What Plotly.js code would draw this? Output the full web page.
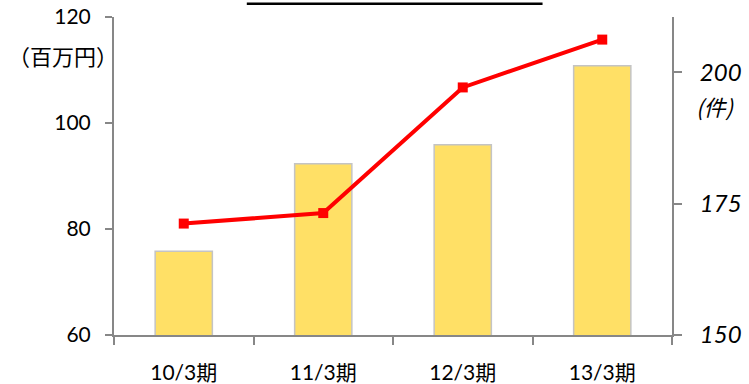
<!DOCTYPE html>
<html>
<head>
<meta charset="utf-8">
<script src="https://cdn.plot.ly/plotly-3.0.1.min.js"></script>
<style>html,body{margin:0;padding:0;background:#fff;}#chart{width:749px;height:384px;}</style>
</head>
<body>
<div id="chart"></div>
<script>
const categories = ["10/3期", "11/3期", "12/3期", "13/3期"];
const salesValues = [75.8, 92.3, 95.9, 110.8];      // 百万円 (left axis)
const countValues = [171.2, 173.2, 197.1, 206.2];    // 件 (right axis)
const leftTicks = [60, 80, 100, 120];
const rightTicks = [150, 175, 200];

const FONT = "Lato, 'Noto Sans CJK JP', sans-serif";
const AXIS_COLOR = "#878787";

const traces = [
  {
    type: "bar",
    x: categories,
    y: salesValues,
    width: 0.41,
    marker: {color: "#FFE066", line: {color: "#C4C4C4", width: 1.5}},
    hoverinfo: "skip",
    yaxis: "y"
  },
  {
    type: "scatter",
    mode: "lines+markers",
    x: categories,
    y: countValues,
    line: {color: "#FF0000", width: 4},
    marker: {symbol: "square", size: 10, color: "#FF0000"},
    hoverinfo: "skip",
    yaxis: "y2"
  }
];

const layout = {
  width: 749,
  height: 384,
  margin: {l: 114, r: 77, t: 17, b: 49},
  paper_bgcolor: "#ffffff",
  plot_bgcolor: "#ffffff",
  showlegend: false,
  font: {family: FONT, color: "#000000", size: 20},
  xaxis: {
    type: "category",
    showgrid: false,
    zeroline: false,
    showline: true,
    linecolor: AXIS_COLOR,
    linewidth: 2,
    ticks: "outside",
    tickson: "boundaries",
    ticklen: 8,
    tickwidth: 2,
    tickcolor: AXIS_COLOR,
    tickfont: {family: FONT, size: 21, color: "#000"},
    ticklabelstandoff: 18
  },
  yaxis: {
    range: [60, 120],
    tickvals: leftTicks,
    ticktext: leftTicks.map(String),
    showgrid: false,
    zeroline: false,
    showline: true,
    linecolor: AXIS_COLOR,
    linewidth: 2,
    ticks: "outside",
    ticklen: 7,
    tickwidth: 2,
    tickcolor: AXIS_COLOR,
    tickfont: {family: FONT, size: 21, color: "#000"},
    ticklabelstandoff: 10
  },
  yaxis2: {
    overlaying: "y",
    side: "right",
    range: [150, 210.5],
    tickvals: rightTicks,
    ticktext: rightTicks.map(String),
    showgrid: false,
    zeroline: false,
    showline: true,
    linecolor: AXIS_COLOR,
    linewidth: 2,
    ticks: "outside",
    ticklen: 8,
    tickwidth: 2,
    tickcolor: AXIS_COLOR,
    tickfont: {family: FONT, size: 24, color: "#000", style: "italic"},
    ticklabelstandoff: 13
  },
  annotations: [
    {
      text: "（百万円）",
      xref: "paper", yref: "paper",
      x: 0, y: 0.88,
      xanchor: "right", yanchor: "middle",
      xshift: 6,
      showarrow: false,
      font: {family: "'Noto Sans CJK JP', sans-serif", size: 22, color: "#000"}
    },
    {
      text: "(件)",
      xref: "paper", yref: "paper",
      x: 1, y: 0.72,
      xanchor: "left", yanchor: "middle",
      xshift: 22,
      showarrow: false,
      font: {family: "'Noto Sans CJK JP', sans-serif", size: 22, color: "#000", style: "italic"}
    }
  ],
  shapes: [
    {
      type: "line",
      xref: "paper", yref: "paper",
      x0: 0.238, x1: 0.768,
      y0: 1.042, y1: 1.042,
      line: {color: "#000000", width: 2.5}
    }
  ]
};

Plotly.newPlot("chart", traces, layout, {staticPlot: true, displayModeBar: false});
</script>
</body>
</html>
